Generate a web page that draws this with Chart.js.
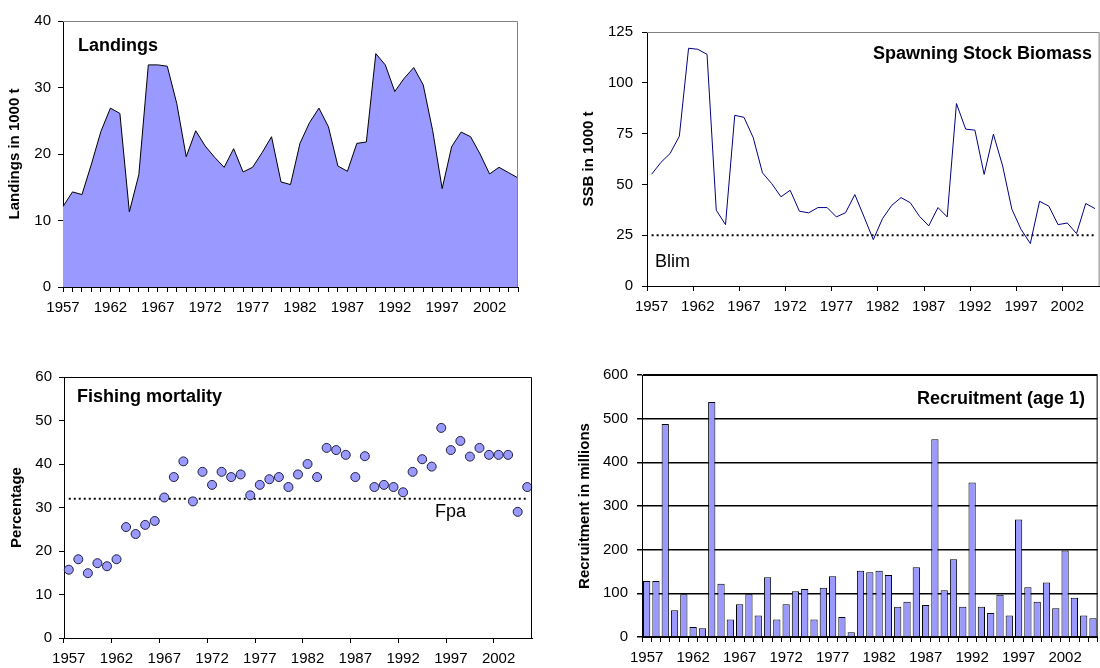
<!DOCTYPE html>
<html>
<head>
<meta charset="utf-8">
<script src="https://cdn.jsdelivr.net/npm/chart.js@4"></script>
<style>
  html, body { margin: 0; padding: 0; background: #fff; overflow: hidden; }
  #wrap { position: relative; width: 1100px; height: 668px; overflow: hidden; }
  canvas { position: absolute; }
</style>
</head>
<body>
<div id="wrap">
  <canvas id="landings" width="540" height="330" style="left:0;top:0"></canvas>
  <canvas id="ssb" width="542" height="330" style="left:560px;top:0"></canvas>
  <canvas id="fishing" width="550" height="328" style="left:0;top:340px"></canvas>
  <canvas id="recruits" width="540" height="328" style="left:560px;top:340px"></canvas>
</div>
<script>
// data, 1957 - 2005
const years = [1957, 1958, 1959, 1960, 1961, 1962, 1963, 1964, 1965, 1966,
    1967, 1968, 1969, 1970, 1971, 1972, 1973, 1974, 1975, 1976,
    1977, 1978, 1979, 1980, 1981, 1982, 1983, 1984, 1985, 1986,
    1987, 1988, 1989, 1990, 1991, 1992, 1993, 1994, 1995, 1996,
    1997, 1998, 1999, 2000, 2001, 2002, 2003, 2004, 2005];

const landings = [12.1, 14.3, 13.9, 18.5, 23.4, 26.9, 26.1, 11.3, 16.9, 33.4,
    33.4, 33.2, 27.6, 19.6, 23.5, 21.2, 19.5, 18.0, 20.8, 17.3,
    18.0, 20.2, 22.6, 15.8, 15.4, 21.6, 24.7, 26.9, 24.1, 18.2,
    17.4, 21.6, 21.8, 35.1, 33.4, 29.4, 31.4, 33.0, 30.4, 23.5,
    14.8, 21.1, 23.3, 22.6, 20.0, 17.0, 18.0, 17.2, 16.4];

const ssb = [55.0, 60.8, 65.2, 73.7, 117, 116.5, 114, 37.3, 30.2, 84,
    83, 73, 55.7, 50.4, 43.9, 47.1, 36.8, 36, 38.6, 38.6,
    34, 36.1, 45, 34, 22.8, 33.2, 39.7, 43.5, 41, 34.3,
    29.6, 38.6, 34, 89.8, 77.2, 76.7, 54.9, 74.7, 59.1, 37.8,
    27.8, 20.9, 41.7, 39.3, 30.2, 31, 25.8, 40.6, 38.1];
const blim = 25;

const fishing = [15.7, 18.1, 14.9, 17.2, 16.5, 18.1, 25.5, 23.9, 26.0, 26.9,
    32.3, 37.0, 40.6, 31.4, 38.2, 35.2, 38.2, 37.0, 37.6, 32.8,
    35.2, 36.5, 37.0, 34.7, 37.6, 40.0, 37.0, 43.7, 43.2, 42.1,
    37.0, 41.8, 34.7, 35.2, 34.7, 33.5, 38.2, 41.1, 39.4, 48.3,
    43.2, 45.3, 41.7, 43.7, 42.1, 42.1, 42.1, 29.0, 34.7];
const fpa = 32;

const recruits = [128, 128, 488, 61, 98, 23, 20, 538, 122, 40,
    75, 98, 49, 137, 40, 75, 105, 110, 40, 113,
    139, 46, 11, 152, 148, 152, 142, 69, 81, 160,
    73, 453, 107, 178, 69, 354, 69, 55, 97, 49,
    269, 114, 81, 125, 66, 198, 90, 49, 43];

Chart.defaults.font.family = '"Liberation Sans", Arial, sans-serif';
Chart.defaults.font.size = 15;
Chart.defaults.color = '#000';
Chart.defaults.animation = false;
Chart.defaults.plugins.legend.display = false;
Chart.defaults.plugins.tooltip.enabled = false;

// top/right border of the plot box + free texts
const frame = {
    id: 'frame',
    afterDraw(chart, args, opts) {
        const ctx = chart.ctx, a = chart.chartArea;
        ctx.save();
        ctx.strokeStyle = opts.color || '#808080';
        ctx.lineWidth = 1;
        ctx.beginPath();
        ctx.moveTo(a.left, a.top + 0.5);
        ctx.lineTo(a.right - 0.5, a.top + 0.5);
        ctx.lineTo(a.right - 0.5, a.bottom);
        ctx.stroke();
        (opts.texts || []).forEach(function (t) {
            ctx.font = (t.bold ? 'bold ' : '') + '18px "Liberation Sans", Arial, sans-serif';
            ctx.fillStyle = '#000';
            ctx.textAlign = t.align || 'left';
            ctx.textBaseline = 'middle';
            ctx.fillText(t.text, t.x, t.y);
        });
        ctx.restore();
    }
};

function xAxis(height, offset, everyTick) {
    return {
        type: 'category',
        offset: offset,
        border: { color: '#000', width: 1 },
        grid: {
            offset: offset,
            drawOnChartArea: false,
            tickLength: 5,
            tickColor: c => (everyTick || c.index % 5 === 0) ? '#000' : 'rgba(0,0,0,0)'
        },
        ticks: {
            autoSkip: false, maxRotation: 0, padding: 7,
            callback: (v, i) => i % 5 === 0 ? years[i] : ''
        },
        afterFit: s => { s.height = height; }
    };
}

function yAxis(max, step, width, title, titlePad, labelPad, gridOn) {
    return {
        min: 0, max: max,
        border: { color: '#000', width: 1 },
        grid: { drawOnChartArea: !!gridOn, color: '#000', lineWidth: gridOn ? 1.5 : 1, tickLength: 5 },
        ticks: { stepSize: step, padding: labelPad },
        title: { display: true, text: title, font: { weight: 'bold', size: 15 }, padding: { top: titlePad, bottom: 0 } },
        afterFit: s => { s.width = width; }
    };
}

new Chart(document.getElementById('landings'), {
    type: 'line',
    data: {
        labels: years,
        datasets: [{
            data: landings,
            fill: 'origin',
            backgroundColor: '#9999FF',
            borderColor: '#000',
            borderWidth: 1,
            pointRadius: 0,
            tension: 0
        }]
    },
    options: {
        responsive: false,
        layout: { autoPadding: false, padding: { top: 21, right: 22, bottom: 0, left: 0 } },
        scales: {
            x: xAxis(43, false, true),
            y: yAxis(40, 10, 63, 'Landings in 1000 t', 6, 7)
        },
        plugins: { frame: { color: '#808080', texts: [{ text: 'Landings', x: 78, y: 46, bold: true }] } }
    },
    plugins: [frame]
});

new Chart(document.getElementById('ssb'), {
    type: 'line',
    data: {
        labels: years,
        datasets: [{
            data: ssb,
            borderColor: '#000080',
            borderWidth: 1,
            pointRadius: 0,
            fill: false,
            tension: 0
        }, {
            data: years.map(() => blim),
            borderColor: '#000',
            borderWidth: 2,
            borderDash: [2, 3],
            pointRadius: 0,
            fill: false
        }]
    },
    options: {
        responsive: false,
        layout: { autoPadding: false, padding: { top: 32, right: 0, bottom: 0, left: 0 } },
        scales: {
            x: xAxis(44, true, false),
            y: yAxis(125, 25, 87, 'SSB in 1000 t', 20, 9)
        },
        plugins: {
            frame: {
                color: '#808080',
                texts: [
                    { text: 'Spawning Stock Biomass', x: 313, y: 54, bold: true },
                    { text: 'Blim', x: 95, y: 262 }
                ]
            }
        }
    },
    plugins: [frame]
});

new Chart(document.getElementById('fishing'), {
    type: 'line',
    data: {
        labels: years,
        datasets: [{
            data: fishing,
            showLine: false,
            pointRadius: 4.5,
            pointBackgroundColor: '#9999FF',
            pointBorderColor: '#1f1f3f',
            pointBorderWidth: 1
        }, {
            data: years.map(() => fpa),
            borderColor: '#000',
            borderWidth: 2,
            borderDash: [2, 3],
            pointRadius: 0,
            fill: false
        }]
    },
    options: {
        responsive: false,
        layout: { autoPadding: false, padding: { top: 37, right: 18, bottom: 0, left: 0 } },
        scales: {
            x: xAxis(30, true, false),
            y: yAxis(60, 10, 64, 'Percentage', 8, 7)
        },
        plugins: {
            frame: {
                color: '#000',
                texts: [
                    { text: 'Fishing mortality', x: 77, y: 57, bold: true },
                    { text: 'Fpa', x: 435, y: 172 }
                ]
            }
        }
    },
    plugins: [frame]
});

new Chart(document.getElementById('recruits'), {
    type: 'bar',
    data: {
        labels: years,
        datasets: [{
            data: recruits,
            backgroundColor: '#9999FF',
            borderColor: '#000',
            borderWidth: 1,
            barPercentage: 0.78,
            categoryPercentage: 1
        }]
    },
    options: {
        responsive: false,
        layout: { autoPadding: false, padding: { top: 35, right: 1, bottom: 0, left: 0 } },
        scales: {
            x: xAxis(31, true, true),
            y: yAxis(600, 100, 82, 'Recruitment in millions', 16, 9, true)
        },
        plugins: {
            frame: {
                color: '#000',
                texts: [{ text: 'Recruitment (age 1)', x: 525, y: 59, bold: true, align: 'right' }]
            }
        }
    },
    plugins: [frame]
});
</script>
</body>
</html>
